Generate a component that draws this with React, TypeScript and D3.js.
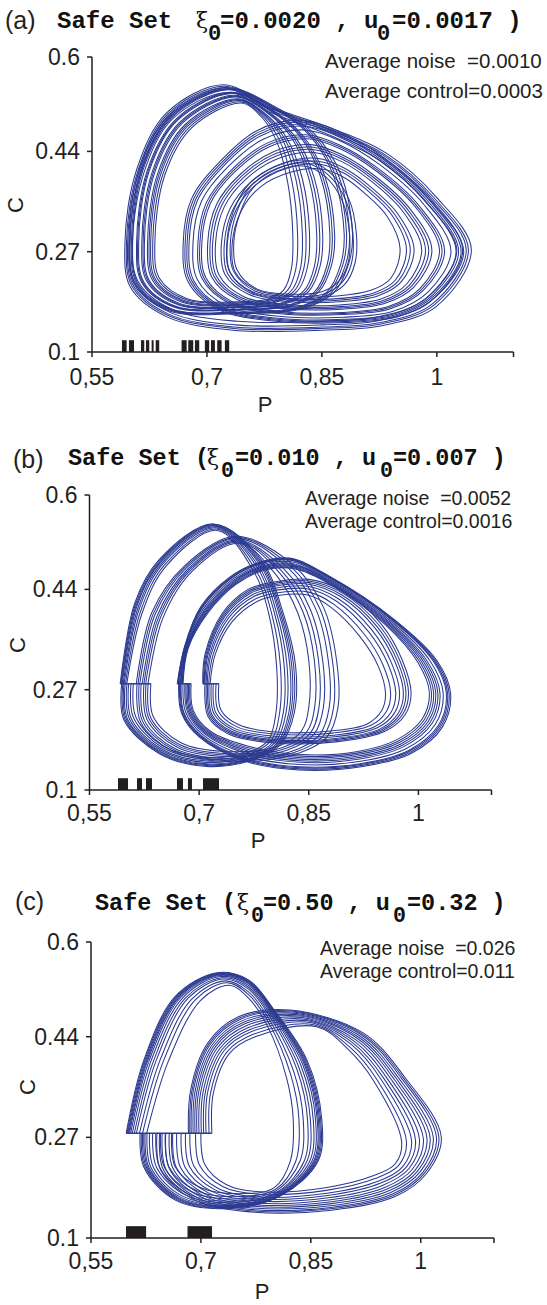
import React from 'react';
import * as d3 from 'd3';

type Pt = [number, number];
interface Family { outer: Pt[]; inner: Pt[]; ts: number[]; closed: boolean }

// ---------- text / tick data ----------
const panelLabels = ['(a)', '(b)', '(c)'];
const titleHeads = ['Safe Set', 'Safe Set (', 'Safe Set ('];
const xiValues = ['=0.0020 , u', '=0.010 , u', '=0.50 , u'];
const uValues = ['=0.0017 )', '=0.007 )', '=0.32 )'];
const noiseTexts = ['Average noise  =0.0010', 'Average noise  =0.0052', 'Average noise  =0.026'];
const controlTexts = ['Average control=0.0003', 'Average control=0.0016', 'Average control=0.011'];
const xTicks = [0.55, 0.7, 0.85, 1, 1.1];
const xTickLabels = ['0,55', '0,7', '0,85', '1', ''];
const yTicks = [0.1, 0.27, 0.44, 0.6];
const yTickLabels = ['0.1', '0.27', '0.44', '0.6'];
const pDomain: [number, number] = [0.55, 1.1];
const cDomain: [number, number] = [0.1, 0.6];
const safeBarTop = 0.12;

// ---------- safe set intervals (P) ----------
const safeA: Pt[] = [
  [0.5891, 0.5952], [0.5982, 0.6048], [0.6139, 0.6182], [0.6204, 0.6247], [0.6278, 0.6304], [0.6331, 0.6377],
  [0.6669, 0.6735], [0.6756, 0.6821], [0.6843, 0.6899], [0.6973, 0.7029], [0.7052, 0.7104], [0.7134, 0.7191], [0.7234, 0.729],
];
const safeB: Pt[] = [
  [0.589, 0.6027], [0.615, 0.6218], [0.6273, 0.6355], [0.6697, 0.6779], [0.6847, 0.6902], [0.7053, 0.7272],
];
const safeC: Pt[] = [[0.5978, 0.6252], [0.6817, 0.7152]];

// ---------- control cut segments ----------
const cutLevel = [0.285, 0.28, 0.277];
const cutsA: Pt[] = [];
const cutsB: Pt[] = [[0.592, 0.634], [0.670, 0.689], [0.705, 0.727]];
const cutsC: Pt[] = [[0.598, 0.715]];

// ---------- trajectory bands (P, C): outer strand, inner strand, strand positions ----------
const aBig: Family = {
  closed: true,
  outer: [[0.593, 0.285], [0.60, 0.21], [0.647, 0.16], [0.734, 0.137], [0.85, 0.137], [0.93, 0.145], [0.999, 0.177], [1.045, 0.273], [0.999, 0.363], [0.934, 0.437], [0.869, 0.476], [0.782, 0.516], [0.721, 0.553], [0.647, 0.505], [0.608, 0.408]],
  inner: [[0.603, 0.285], [0.61, 0.22], [0.655, 0.172], [0.74, 0.152], [0.85, 0.152], [0.925, 0.16], [0.985, 0.19], [1.026, 0.272], [0.985, 0.355], [0.925, 0.425], [0.865, 0.465], [0.785, 0.505], [0.728, 0.54], [0.655, 0.495], [0.618, 0.405]],
  ts: [0, 0.2, 0.35, 0.6, 1],
};
const aLeft: Family = {
  closed: true,
  outer: [[0.598, 0.285], [0.605, 0.215], [0.65, 0.17], [0.74, 0.165], [0.82, 0.172], [0.865, 0.2], [0.885, 0.25], [0.89, 0.30], [0.875, 0.40], [0.84, 0.47], [0.79, 0.515], [0.725, 0.548], [0.65, 0.5], [0.612, 0.41]],
  inner: [[0.632, 0.285], [0.638, 0.225], [0.675, 0.19], [0.74, 0.185], [0.78, 0.19], [0.80, 0.205], [0.81, 0.24], [0.812, 0.30], [0.805, 0.39], [0.79, 0.46], [0.77, 0.5], [0.745, 0.522], [0.68, 0.48], [0.645, 0.40]],
  ts: [0, 0.05, 0.1, 0.14, 0.3, 0.34, 0.38, 0.5, 0.55, 0.6, 0.72, 0.78, 0.84, 0.92, 1],
};
const aRight: Family = {
  closed: true,
  outer: [[0.669, 0.285], [0.675, 0.22], [0.715, 0.172], [0.79, 0.152], [0.88, 0.15], [0.95, 0.16], [1.0, 0.195], [1.035, 0.27], [0.995, 0.355], [0.93, 0.43], [0.87, 0.475], [0.82, 0.493], [0.765, 0.475], [0.715, 0.42], [0.68, 0.36]],
  inner: [[0.733, 0.285], [0.737, 0.235], [0.765, 0.205], [0.81, 0.195], [0.87, 0.195], [0.915, 0.205], [0.94, 0.225], [0.952, 0.275], [0.935, 0.33], [0.905, 0.37], [0.88, 0.395], [0.85, 0.41], [0.81, 0.405], [0.77, 0.38], [0.745, 0.34]],
  ts: [0, 0.04, 0.08, 0.12, 0.2, 0.3, 0.34, 0.38, 0.5, 0.55, 0.6, 0.66, 0.78, 0.84, 0.9, 1],
};
const aInner: Family = {
  closed: true,
  outer: [[0.726, 0.285], [0.73, 0.235], [0.76, 0.2], [0.81, 0.19], [0.855, 0.195], [0.88, 0.215], [0.893, 0.25], [0.895, 0.3], [0.885, 0.36], [0.86, 0.405], [0.83, 0.425], [0.79, 0.415], [0.755, 0.385], [0.735, 0.34]],
  inner: [[0.735, 0.285], [0.739, 0.24], [0.765, 0.207], [0.81, 0.198], [0.85, 0.202], [0.872, 0.22], [0.884, 0.25], [0.886, 0.3], [0.877, 0.355], [0.855, 0.397], [0.828, 0.415], [0.792, 0.407], [0.76, 0.378], [0.743, 0.335]],
  ts: [0, 0.5, 1],
};

const bL1: Family = {
  closed: false,
  outer: [[0.594, 0.28], [0.597, 0.219], [0.645, 0.162], [0.71, 0.14], [0.776, 0.152], [0.812, 0.178], [0.83, 0.23], [0.832, 0.31], [0.815, 0.40], [0.785, 0.49], [0.72, 0.551], [0.645, 0.49], [0.612, 0.417], [0.592, 0.28]],
  inner: [[0.61, 0.28], [0.613, 0.225], [0.65, 0.175], [0.71, 0.155], [0.77, 0.165], [0.795, 0.185], [0.805, 0.23], [0.806, 0.31], [0.795, 0.40], [0.775, 0.47], [0.725, 0.54], [0.655, 0.48], [0.622, 0.40], [0.601, 0.28]],
  ts: [0, 0.1, 0.2, 0.3, 0.45, 0.6, 0.8, 1],
};
const bL2: Family = {
  closed: false,
  outer: [[0.615, 0.28], [0.62, 0.215], [0.665, 0.165], [0.74, 0.148], [0.83, 0.16], [0.875, 0.19], [0.89, 0.24], [0.888, 0.32], [0.87, 0.41], [0.83, 0.48], [0.75, 0.53], [0.68, 0.48], [0.635, 0.40], [0.614, 0.28]],
  inner: [[0.634, 0.28], [0.637, 0.225], [0.675, 0.18], [0.74, 0.165], [0.81, 0.175], [0.84, 0.2], [0.85, 0.24], [0.85, 0.32], [0.835, 0.40], [0.805, 0.465], [0.755, 0.518], [0.69, 0.47], [0.65, 0.39], [0.63, 0.28]],
  ts: [0, 0.15, 0.3, 0.5, 0.65, 0.8, 1],
};
const bR3: Family = {
  closed: false,
  outer: [[0.672, 0.28], [0.676, 0.23], [0.70, 0.19], [0.76, 0.15], [0.837, 0.134], [0.924, 0.14], [0.99, 0.162], [1.033, 0.207], [1.044, 0.264], [1.025, 0.32], [0.968, 0.388], [0.88, 0.461], [0.824, 0.493], [0.785, 0.487], [0.741, 0.46], [0.702, 0.41], [0.68, 0.343], [0.670, 0.28]],
  inner: [[0.689, 0.28], [0.692, 0.235], [0.715, 0.2], [0.765, 0.175], [0.84, 0.16], [0.915, 0.165], [0.97, 0.185], [1.005, 0.22], [1.015, 0.265], [1.0, 0.315], [0.955, 0.38], [0.88, 0.448], [0.83, 0.475], [0.79, 0.473], [0.75, 0.448], [0.712, 0.40], [0.685, 0.34], [0.678, 0.28]],
  ts: [0, 0.07, 0.14, 0.2, 0.35, 0.5, 0.6, 0.7, 0.8, 0.9, 1],
};
const bR4: Family = {
  closed: false,
  outer: [[0.708, 0.28], [0.712, 0.225], [0.74, 0.195], [0.80, 0.18], [0.89, 0.182], [0.955, 0.2], [0.982, 0.228], [0.99, 0.264], [0.978, 0.32], [0.95, 0.38], [0.9, 0.435], [0.85, 0.457], [0.80, 0.452], [0.767, 0.44], [0.732, 0.40], [0.708, 0.33], [0.705, 0.28]],
  inner: [[0.727, 0.28], [0.73, 0.235], [0.755, 0.21], [0.81, 0.198], [0.88, 0.2], [0.93, 0.212], [0.95, 0.235], [0.955, 0.264], [0.945, 0.31], [0.92, 0.36], [0.88, 0.41], [0.85, 0.43], [0.81, 0.43], [0.78, 0.42], [0.745, 0.385], [0.722, 0.33], [0.715, 0.28]],
  ts: [0, 0.1, 0.2, 0.3, 0.45, 0.6, 0.8, 1],
};

const cLeft: Family = {
  closed: false,
  outer: [[0.617, 0.277], [0.622, 0.22], [0.665, 0.164], [0.74, 0.15], [0.81, 0.172], [0.86, 0.23], [0.865, 0.30], [0.845, 0.40], [0.80, 0.485], [0.765, 0.536], [0.722, 0.548], [0.665, 0.508], [0.622, 0.40], [0.598, 0.277]],
  inner: [[0.66, 0.277], [0.665, 0.22], [0.70, 0.185], [0.76, 0.175], [0.80, 0.185], [0.822, 0.23], [0.826, 0.30], [0.817, 0.37], [0.79, 0.46], [0.765, 0.505], [0.739, 0.527], [0.70, 0.502], [0.656, 0.40], [0.626, 0.277]],
  ts: [0, 0.04, 0.08, 0.12, 0.16, 0.22, 0.3, 0.4, 0.5, 0.65, 0.8, 1],
};
const cRight: Family = {
  closed: false,
  outer: [[0.64, 0.277], [0.645, 0.215], [0.69, 0.165], [0.76, 0.145], [0.878, 0.147], [0.965, 0.17], [1.008, 0.209], [1.028, 0.271], [0.978, 0.372], [0.922, 0.446], [0.822, 0.485], [0.752, 0.474], [0.709, 0.429], [0.686, 0.35], [0.683, 0.277]],
  inner: [[0.70, 0.277], [0.705, 0.225], [0.735, 0.19], [0.78, 0.178], [0.87, 0.185], [0.935, 0.205], [0.965, 0.225], [0.974, 0.262], [0.935, 0.367], [0.90, 0.42], [0.858, 0.457], [0.774, 0.44], [0.739, 0.412], [0.717, 0.345], [0.715, 0.277]],
  ts: [0, 0.06, 0.12, 0.2, 0.28, 0.36, 0.45, 0.55, 0.65, 0.75, 0.88, 1],
};

const familiesByPanel: Family[][] = [[aBig, aLeft, aRight, aInner], [bL1, bL2, bR3, bR4], [cLeft, cRight]];
const safeByPanel = [safeA, safeB, safeC];
const cutsByPanel = [cutsA, cutsB, cutsC];

// ---------- layout (pixels) ----------
const layout = [
  { top: 57, bottom: 352, left: 92, right: 513.5, lab: [5, 29], titleY: 28, titleFs: 24, tx: [57, 196, 208, 220, 377, 392],
    noteFs: 20.5, notes: [325, 68, 98], tickDy: 33, px: 265, py: 412, cx: 15, cy: 205 },
  { top: 495, bottom: 790, left: 89.5, right: 491.5, lab: [13, 468], titleY: 465, titleFs: 23.5, tx: [68, 207, 221, 235, 380, 393],
    noteFs: 19.5, notes: [305, 505, 528], tickDy: 31, px: 258, py: 848, cx: 17, cy: 645 },
  { top: 942, bottom: 1238, left: 91, right: 494, lab: [15, 910], titleY: 910, titleFs: 23.5, tx: [95, 237, 251, 263, 393, 407],
    noteFs: 19.5, notes: [320, 955, 978], tickDy: 31, px: 262, py: 1299, cx: 27, cy: 1087 },
];

const BLUE = '#2b3990';
const INK = '#231f20';
const SANS = "'Liberation Sans', Arial, Helvetica, sans-serif";
const MONO = "'Liberation Mono', 'DejaVu Sans Mono', monospace";
const SERIF = "'DejaVu Serif', 'Liberation Serif', serif";

function strands(f: Family): Pt[][] {
  return f.ts.map((t) => f.outer.map((p, i) => [p[0] + (f.inner[i][0] - p[0]) * t, p[1] + (f.inner[i][1] - p[1]) * t] as Pt));
}

function Panel({ i }: { i: number }) {
  const L = layout[i];
  const x = d3.scaleLinear().domain(pDomain).range([L.left, L.right]);
  const y = d3.scaleLinear().domain(cDomain).range([L.bottom, L.top]);
  const openLine = d3.line<Pt>().x((d) => x(d[0])).y((d) => y(d[1])).curve(d3.curveCatmullRom.alpha(0.5));
  const closedLine = d3.line<Pt>().x((d) => x(d[0])).y((d) => y(d[1])).curve(d3.curveCatmullRomClosed.alpha(0.5));
  const paths: string[] = [];
  familiesByPanel[i].forEach((f) => strands(f).forEach((s) => paths.push((f.closed ? closedLine(s) : openLine(s)) || '')));
  const ty = L.titleY;
  return (
    <g>
      <text x={L.lab[0]} y={L.lab[1]} fontFamily={SANS} fontSize={25} fill={INK}>{panelLabels[i]}</text>
      <g fontFamily={MONO} fontWeight="bold" fontSize={L.titleFs} fill="#111" style={{ whiteSpace: 'pre' }}>
        <text x={L.tx[0]} y={ty}>{titleHeads[i]}</text>
        <text x={L.tx[1]} y={ty} fontFamily={SERIF} fontWeight="normal" fontSize={22}>ξ</text>
        <text x={L.tx[2]} y={ty + 12} fontSize={L.titleFs * 0.92}>0</text>
        <text x={L.tx[3]} y={ty}>{xiValues[i]}</text>
        <text x={L.tx[4]} y={ty + 12} fontSize={L.titleFs * 0.92}>0</text>
        <text x={L.tx[5]} y={ty}>{uValues[i]}</text>
      </g>
      <text x={L.notes[0]} y={L.notes[1]} fontFamily={SANS} fontSize={L.noteFs} fill={INK} style={{ whiteSpace: 'pre' }}>{noiseTexts[i]}</text>
      <text x={L.notes[0]} y={L.notes[2]} fontFamily={SANS} fontSize={L.noteFs} fill={INK} style={{ whiteSpace: 'pre' }}>{controlTexts[i]}</text>
      <g fill="none" stroke={BLUE} strokeWidth={1.05}>
        {paths.map((d, k) => <path key={k} d={d} />)}
        {cutsByPanel[i].map((c, k) => (
          <line key={'c' + k} x1={x(c[0])} x2={x(c[1])} y1={y(cutLevel[i])} y2={y(cutLevel[i])} strokeWidth={1.5} />
        ))}
      </g>
      <g fill={INK}>
        {safeByPanel[i].map((s, k) => (
          <rect key={k} x={x(s[0])} y={y(safeBarTop)} width={x(s[1]) - x(s[0])} height={y(cDomain[0]) - y(safeBarTop)} />
        ))}
      </g>
      <g stroke={INK} strokeWidth={1.5}>
        <line x1={x(pDomain[0])} x2={x(pDomain[1])} y1={y(cDomain[0])} y2={y(cDomain[0])} />
        <line x1={x(pDomain[0])} x2={x(pDomain[0])} y1={y(cDomain[0])} y2={y(cDomain[1])} />
        {xTicks.map((t, k) => <line key={'x' + k} x1={x(t)} x2={x(t)} y1={y(cDomain[0])} y2={y(cDomain[0]) + 5} />)}
        {yTicks.map((t, k) => <line key={'y' + k} x1={x(pDomain[0]) - 5} x2={x(pDomain[0])} y1={y(t)} y2={y(t)} />)}
      </g>
      <g fontFamily={SANS} fontSize={23} fill={INK}>
        {xTicks.map((t, k) => (
          <text key={'xl' + k} x={x(t)} y={y(cDomain[0]) + L.tickDy} textAnchor="middle">{xTickLabels[k]}</text>
        ))}
        {yTicks.map((t, k) => (
          <text key={'yl' + k} x={x(pDomain[0]) - 12} y={y(t)} textAnchor="end" dominantBaseline="central">{yTickLabels[k]}</text>
        ))}
      </g>
      <text x={L.px} y={L.py} fontFamily={SANS} fontSize={22} fill={INK} textAnchor="middle">P</text>
      <text transform={`translate(${L.cx},${L.cy}) rotate(-90)`} fontFamily={SANS} fontSize={22} fill={INK} textAnchor="middle" dominantBaseline="central">C</text>
    </g>
  );
}

export default function App() {
  return (
    <svg width={547} height={1305} viewBox="0 0 547 1305" style={{ position: 'absolute', left: 0, top: 0, background: '#fff' }}>
      <rect x={0} y={0} width={547} height={1305} fill="#fff" />
      {[0, 1, 2].map((i) => <Panel key={i} i={i} />)}
    </svg>
  );
}
